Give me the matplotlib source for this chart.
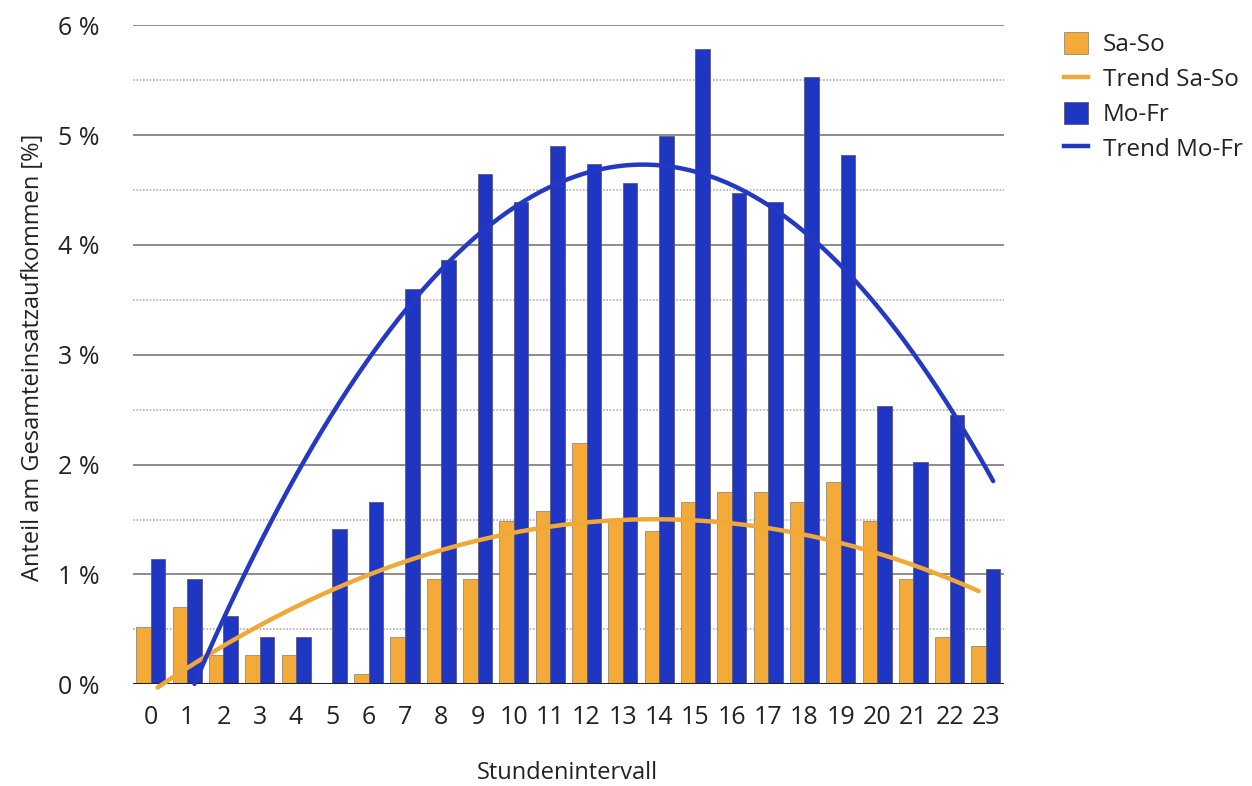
import numpy as np
import matplotlib
matplotlib.use("Agg")
import matplotlib.pyplot as plt
from matplotlib.patches import Patch
from matplotlib.lines import Line2D

hours = list(range(24))
# hour 5 has no weekend value (empty cell)
sa_so = [0.52, 0.70, 0.27, 0.27, 0.27, np.nan, 0.09, 0.43, 0.96, 0.96, 1.49, 1.58,
         2.20, 1.50, 1.40, 1.66, 1.75, 1.75, 1.66, 1.84, 1.49, 0.96, 0.43, 0.35]
mo_fr = [1.14, 0.96, 0.62, 0.43, 0.43, 1.41, 1.66, 3.60, 3.86, 4.65, 4.39, 4.90,
         4.74, 4.56, 4.99, 5.78, 4.47, 4.39, 5.53, 4.82, 2.53, 2.02, 2.45, 1.05]
y_ticks = [0, 1, 2, 3, 4, 5, 6]

orange = '#F3AA38'
blue = '#1F36C2'

plt.rcParams['font.family'] = ['Open Sans', 'DejaVu Sans']

fig = plt.figure(figsize=(12.52, 7.86), dpi=100)
ax = fig.add_axes([0.106, 0.1294, 0.696, 0.8384])

x = np.arange(len(hours))
w = 0.4
ax.bar(x - w / 2, np.nan_to_num(sa_so), w, color=orange, edgecolor='#9a8a70',
       linewidth=0.6, zorder=2)
ax.bar(x + w / 2, mo_fr, w, color=blue, edgecolor='#5a5a80', linewidth=0.6, zorder=2)

# quadratic trend lines (missing cells left out of the fit)
xs = np.linspace(0, 23, 300)
for vals, off, col in [(sa_so, -w / 2, '#F0A838'), (mo_fr, w / 2, '#2438C4')]:
    v = np.array(vals, dtype=float)
    ok = ~np.isnan(v)
    coef = np.polyfit(x[ok], v[ok], 2)
    ys = np.polyval(coef, xs)
    m = ys >= -0.04
    ax.plot(xs[m] + off, ys[m], color=col, lw=3.2, solid_capstyle='round',
            zorder=4, clip_on=False)

ax.set_xlim(-0.5, 23.5)
ax.set_ylim(0, 6)
ax.set_yticks(y_ticks)
ax.set_yticklabels([f'{v} %' for v in y_ticks])
ax.set_yticks(np.arange(0.5, 6, 1), minor=True)
ax.set_xticks(x)
ax.set_xticklabels([str(h) for h in hours])
ax.tick_params(axis='both', which='both', length=0, labelsize=18, colors='#222222')
ax.tick_params(axis='y', pad=24)
ax.tick_params(axis='x', pad=15)
ax.grid(axis='y', which='major', color='#8c8c8c', lw=1.4, zorder=0)
ax.grid(axis='y', which='minor', color='#b0b0b0', lw=1.2, ls=(0, (1, 1)), zorder=0)
ax.set_axisbelow(True)
for s in ax.spines.values():
    s.set_visible(False)
ax.axhline(0, color='#222222', lw=2.2, zorder=3)

fig.text(567 / 1252, 1 - 773 / 786, 'Stundenintervall', ha='center', va='center',
         fontsize=17, color='#222222')
fig.text(33 / 1252, 1 - 357 / 786, 'Anteil am Gesamteinsatzaufkommen [%]',
         rotation=90, ha='center', va='center', fontsize=17, color='#222222')

handles = [Patch(facecolor=orange, edgecolor='#9a8a70', lw=0.6),
           Line2D([], [], color='#F0A838', lw=3.2),
           Patch(facecolor=blue, edgecolor='#5a5a80', lw=0.6),
           Line2D([], [], color='#2438C4', lw=3.2)]
labels = ['Sa-So', 'Trend Sa-So', 'Mo-Fr', 'Trend Mo-Fr']
fig.legend(handles, labels, loc='upper left', bbox_to_anchor=(1064 / 1252, 1 - 32 / 786),
           frameon=False, fontsize=17.5, handlelength=1.0, handleheight=1.0,
           handletextpad=0.6, labelspacing=0.4, borderaxespad=0, borderpad=0,
           labelcolor='#222222')

fig.savefig('out.png', dpi=100)
